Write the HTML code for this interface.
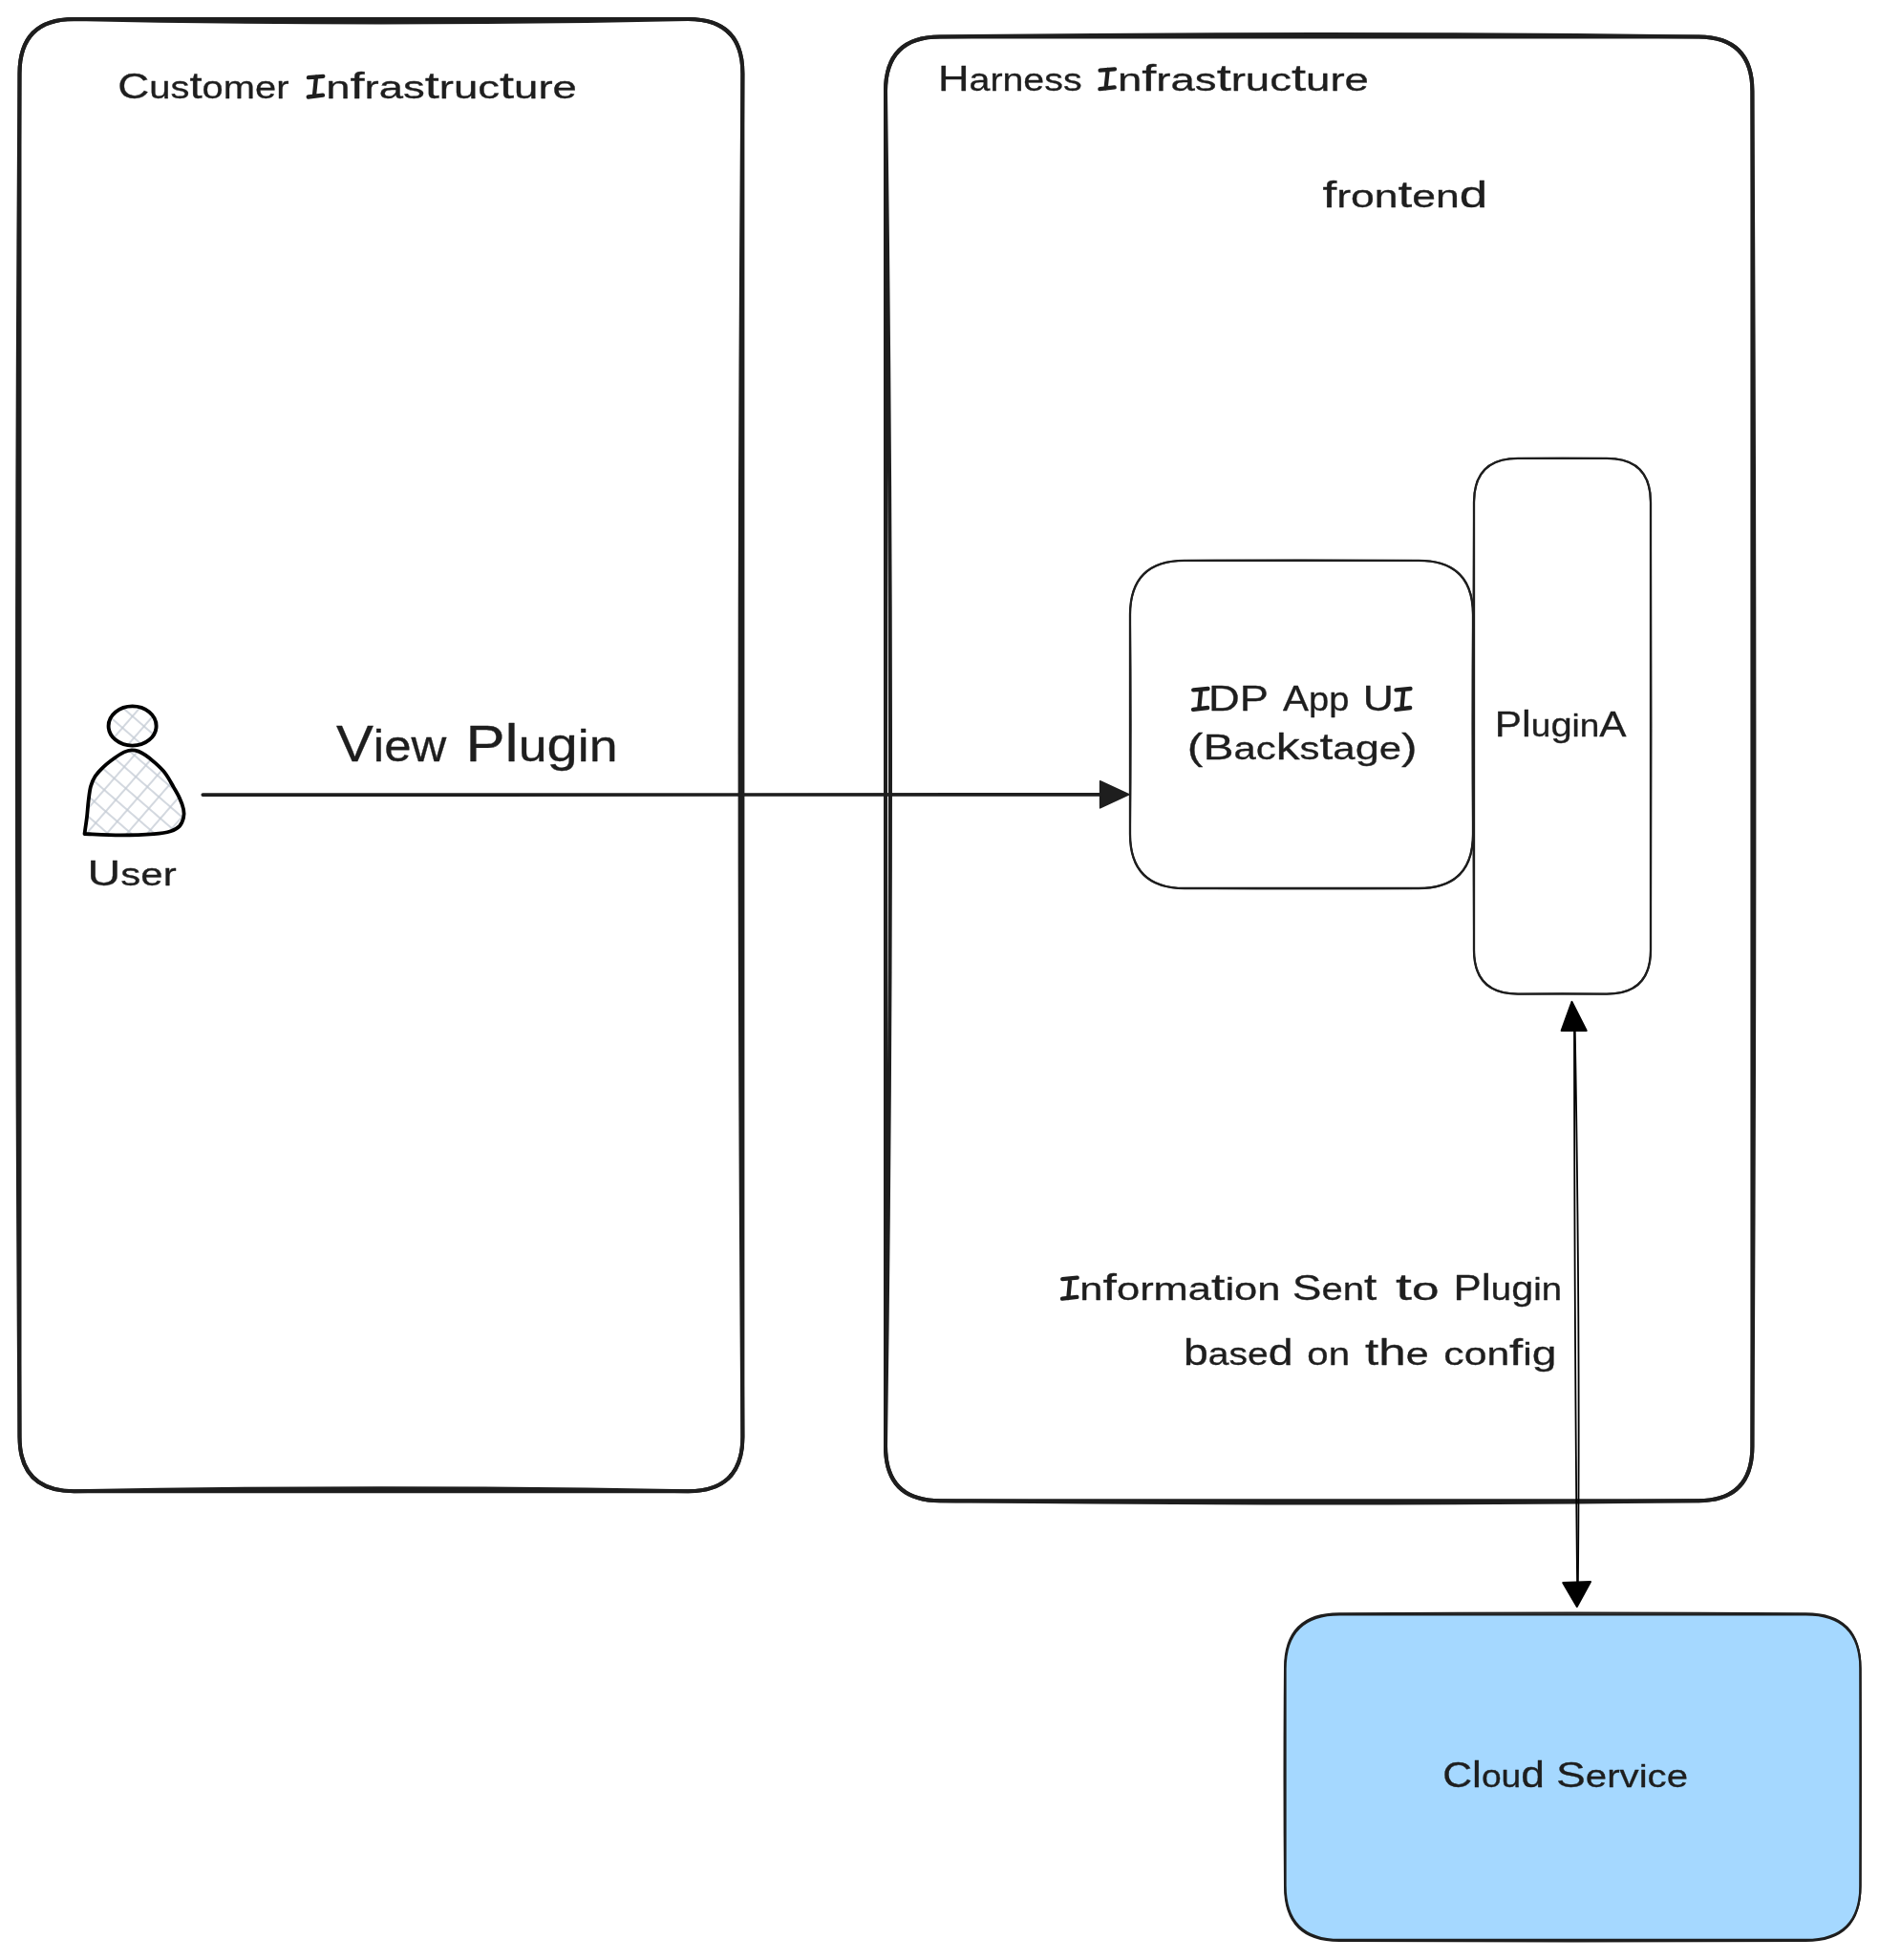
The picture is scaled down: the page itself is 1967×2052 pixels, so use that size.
<!DOCTYPE html>
<html>
<head>
<meta charset="utf-8">
<style>
html,body{margin:0;padding:0;background:#ffffff;}
body{width:1967px;height:2052px;overflow:hidden;position:relative;}
svg{position:absolute;left:0;top:0;will-change:transform;}
text{font-family:"Liberation Sans",sans-serif;fill:#1e1e1e;stroke:#1e1e1e;stroke-width:0.3;stroke-linejoin:round;}
</style>
</head>
<body>
<svg width="1967" height="2052" viewBox="0 0 1967 2052">
<defs>
<pattern id="hatch" patternUnits="userSpaceOnUse" width="16" height="16" patternTransform="translate(130.1,802.8) rotate(41) translate(-8,-8)">
<path d="M0 8H16M8 0V16" stroke="#c5ccd5" stroke-width="1.5" fill="none"/>
</pattern>
<pattern id="hatch2" patternUnits="userSpaceOnUse" width="16" height="16" patternTransform="translate(138.7,749.9) rotate(41) translate(-8,-8)">
<path d="M0 8H16M8 0V16" stroke="#c5ccd5" stroke-width="1.5" fill="none"/>
</pattern>
</defs>
<path d="M77.5 20Q398.95 20 720.4 20Q777.4 20 777.4 77Q777.4 790.6 777.4 1504.2Q777.4 1561.2 720.4 1561.2Q398.95 1561.2 77.5 1561.2Q20.5 1561.2 20.5 1504.2Q20.5 790.6 20.5 77Q20.5 20 77.5 20Z" fill="none" stroke="#1e1e1e" stroke-width="4"/>
<path d="M77.5 20Q398.95 26.8 720.4 20Q777.4 20 777.4 77Q771.8 790.6 777.4 1504.2Q777.4 1561.2 720.4 1561.2Q398.95 1555.2 77.5 1561.2Q20.5 1561.2 20.5 1504.2Q15.5 790.6 20.5 77Q20.5 20 77.5 20Z" fill="none" stroke="#1e1e1e" stroke-width="4"/>
<path d="M984 38.4Q1380.7 38.4 1777.4 38.4Q1834.4 38.4 1834.4 95.4Q1834.4 804.8 1834.4 1514.2Q1834.4 1571.2 1777.4 1571.2Q1380.7 1571.2 984 1571.2Q927 1571.2 927 1514.2Q927 804.8 927 95.4Q927 38.4 984 38.4Z" fill="none" stroke="#1e1e1e" stroke-width="4"/>
<path d="M984 38.4Q1380.7 33.6 1777.4 38.4Q1834.4 38.4 1834.4 95.4Q1838.4 804.8 1834.4 1514.2Q1834.4 1571.2 1777.4 1571.2Q1380.7 1575.8 984 1571.2Q927 1571.2 927 1514.2Q937 804.8 927 95.4Q927 38.4 984 38.4Z" fill="none" stroke="#1e1e1e" stroke-width="4"/>
<path d="M1240 586.8Q1362.5 586.8 1485 586.8Q1542 586.8 1542 643.8Q1542 758.4 1542 873Q1542 930 1485 930Q1362.5 930 1240 930Q1183 930 1183 873Q1183 758.4 1183 643.8Q1183 586.8 1240 586.8Z" fill="none" stroke="#1e1e1e" stroke-width="2.3"/>
<path d="M1240 586.8Q1362.5 586 1485 586.8Q1542 586.8 1542 643.8Q1540.8 758.4 1542 873Q1542 930 1485 930Q1362.5 930.6 1240 930Q1183 930 1183 873Q1184.6 758.4 1183 643.8Q1183 586.8 1240 586.8Z" fill="none" stroke="#1e1e1e" stroke-width="1.8"/>
<path d="M1589 479.9Q1635.5 479.9 1682 479.9Q1728 479.9 1728 525.9Q1728 760.25 1728 994.6Q1728 1040.6 1682 1040.6Q1635.5 1040.6 1589 1040.6Q1543 1040.6 1543 994.6Q1543 760.25 1543 525.9Q1543 479.9 1589 479.9Z" fill="none" stroke="#1e1e1e" stroke-width="2.3"/>
<path d="M1589 479.9Q1635.5 479.3 1682 479.9Q1728 479.9 1728 525.9Q1729 760.25 1728 994.6Q1728 1040.6 1682 1040.6Q1635.5 1039.8 1589 1040.6Q1543 1040.6 1543 994.6Q1541.4 760.25 1543 525.9Q1543 479.9 1589 479.9Z" fill="none" stroke="#1e1e1e" stroke-width="1.8"/>
<path d="M1402.5 1690.3Q1646.5 1690.3 1890.5 1690.3Q1947.5 1690.3 1947.5 1747.3Q1947.5 1860.6 1947.5 1973.9Q1947.5 2030.9 1890.5 2030.9Q1646.5 2030.9 1402.5 2030.9Q1345.5 2030.9 1345.5 1973.9Q1345.5 1860.6 1345.5 1747.3Q1345.5 1690.3 1402.5 1690.3Z" fill="#a5d8ff" stroke="none"/>
<path d="M1402.5 1690.3Q1646.5 1690.3 1890.5 1690.3Q1947.5 1690.3 1947.5 1747.3Q1947.5 1860.6 1947.5 1973.9Q1947.5 2030.9 1890.5 2030.9Q1646.5 2030.9 1402.5 2030.9Q1345.5 2030.9 1345.5 1973.9Q1345.5 1860.6 1345.5 1747.3Q1345.5 1690.3 1402.5 1690.3Z" fill="none" stroke="#1e1e1e" stroke-width="2.3"/>
<path d="M1402 1689.2Q1646.25 1688 1890.5 1689.2Q1947.5 1689.2 1947.5 1746.2Q1948.3 1860.6 1947.5 1975Q1947.5 2032 1890.5 2032Q1646.25 2033 1402 2032Q1345 2032 1345 1975Q1344 1860.6 1345 1746.2Q1345 1689.2 1402 1689.2Z" fill="none" stroke="#1e1e1e" stroke-width="2.0"/>
<path d="M212.3 832.1 L1160 831.9" stroke="#1e1e1e" stroke-width="3.7" stroke-linecap="round" fill="none"/>
<path d="M1151.6 817.8 L1181.8 831.8 L1151.6 845.9 Z" fill="#1e1e1e" stroke="#1e1e1e" stroke-width="1.5" stroke-linejoin="round"/>
<path d="M1648 1068 Q1648.2 1400 1651.2 1667" stroke="#000" stroke-width="1.8" fill="none"/>
<path d="M1648.6 1068 Q1654.5 1400 1651.8 1667" stroke="#000" stroke-width="1.8" fill="none"/>
<path d="M1645.5 1048.9 L1660.7 1079 L1634.6 1079 Z" fill="#000" stroke="#000" stroke-width="2" stroke-linejoin="round"/>
<path d="M1650.8 1682 L1636.2 1657 L1665 1656 Z" fill="#000" stroke="#000" stroke-width="2" stroke-linejoin="round"/>
<ellipse cx="138.6" cy="760" rx="25" ry="20.6" fill="url(#hatch2)" stroke="#000" stroke-width="3.9"/>
<path d="M88.5 873.0 C94.8 873.2 113.9 874.3 126.0 874.3 C138.1 874.3 152.3 873.8 161.1 873.1 C169.9 872.4 174.2 871.6 178.7 870.2 C183.2 868.8 185.8 867.2 188.0 864.9 C190.2 862.5 191.4 859.0 192.1 856.1 C192.8 853.2 192.8 850.7 192.1 847.3 C191.4 843.9 189.8 839.5 188.0 835.6 C186.2 831.7 184.1 828.3 181.6 823.9 C179.1 819.5 176.2 813.7 172.8 809.3 C169.4 804.9 164.5 800.7 161.1 797.6 C157.7 794.5 155.0 792.4 152.3 790.6 C149.6 788.8 147.4 787.5 145.0 786.6 C142.6 785.7 140.2 785.2 137.7 785.3 C135.2 785.4 132.9 786.0 130.0 787.4 C127.1 788.8 123.7 790.9 120.1 793.5 C116.5 796.1 111.8 799.6 108.4 802.8 C105.0 806.0 101.8 809.4 99.6 812.8 C97.4 816.2 96.2 819.0 95.0 823.3 C93.8 827.6 93.3 833.0 92.6 838.5 C91.9 844.0 91.6 850.4 90.9 856.1 C90.2 861.9 88.9 870.2 88.5 873.0Z" fill="url(#hatch)" stroke="#000" stroke-width="3.8" stroke-linejoin="round"/>
<path d="M322.9 81.2L338.3 79.8M331.0 80.5L328.9 100.8M322.7 101.5L338.0 99.7" stroke="#1e1e1e" stroke-width="4.3" stroke-linecap="round" fill="none"/>
<path d="M1151.6 73.7L1167.0 72.3M1159.7 73.0L1157.6 92.5M1151.4 93.2L1166.7 91.4" stroke="#1e1e1e" stroke-width="4.3" stroke-linecap="round" fill="none"/>
<path d="M1249.2 722.4L1264.5 721.0M1257.2 721.7L1255.2 742.1M1249.0 742.8L1264.2 741.0" stroke="#1e1e1e" stroke-width="4.3" stroke-linecap="round" fill="none"/>
<path d="M1461.5 722.4L1476.5 721.0M1469.3 721.7L1467.4 742.1M1461.3 742.8L1476.2 741.0" stroke="#1e1e1e" stroke-width="4.3" stroke-linecap="round" fill="none"/>
<path d="M1112.2 1339.1L1127.7 1337.7M1120.3 1338.4L1118.3 1359.0M1112.0 1359.7L1127.4 1357.9" stroke="#1e1e1e" stroke-width="4.3" stroke-linecap="round" fill="none"/>
<text x="123.28" y="103" textLength="179.18" lengthAdjust="spacingAndGlyphs"><tspan font-size="37.77">C</tspan><tspan font-size="32.93">us</tspan><tspan font-size="39.16">t</tspan><tspan font-size="32.93">omer</tspan></text>
<text x="341.24" y="103" textLength="262.61" lengthAdjust="spacingAndGlyphs"><tspan font-size="32.93">n</tspan><tspan font-size="39.16">f</tspan><tspan font-size="32.93">ras</tspan><tspan font-size="39.16">t</tspan><tspan font-size="32.93">ruc</tspan><tspan font-size="39.16">t</tspan><tspan font-size="32.93">ure</tspan></text>
<text x="981.91" y="95" textLength="150.71" lengthAdjust="spacingAndGlyphs"><tspan font-size="37.77">H</tspan><tspan font-size="32.93">arness</tspan></text>
<text x="1169.93" y="95" textLength="263.02" lengthAdjust="spacingAndGlyphs"><tspan font-size="32.93">n</tspan><tspan font-size="39.16">f</tspan><tspan font-size="32.93">ras</tspan><tspan font-size="39.16">t</tspan><tspan font-size="32.93">ruc</tspan><tspan font-size="39.16">t</tspan><tspan font-size="32.93">ure</tspan></text>
<text x="1384.4" y="216.5" textLength="172.96" lengthAdjust="spacingAndGlyphs"><tspan font-size="39.16">f</tspan><tspan font-size="32.93">ron</tspan><tspan font-size="39.16">t</tspan><tspan font-size="32.93">en</tspan><tspan font-size="39.16">d</tspan></text>
<text x="1265.0" y="744.3" textLength="62.96" lengthAdjust="spacingAndGlyphs"><tspan font-size="37.77">DP</tspan></text>
<text x="1343.1" y="744.3" textLength="69.34" lengthAdjust="spacingAndGlyphs"><tspan font-size="37.77">A</tspan><tspan font-size="35.6">pp</tspan></text>
<text x="1426.77" y="744.3" textLength="32.12" lengthAdjust="spacingAndGlyphs"><tspan font-size="37.77">U</tspan></text>
<text x="1242.86" y="795" textLength="240.84" lengthAdjust="spacingAndGlyphs"><tspan font-size="39.16">(</tspan><tspan font-size="37.77">B</tspan><tspan font-size="32.93">ac</tspan><tspan font-size="39.16">k</tspan><tspan font-size="32.93">s</tspan><tspan font-size="39.16">t</tspan><tspan font-size="32.93">a</tspan><tspan font-size="35.6">g</tspan><tspan font-size="32.93">e</tspan><tspan font-size="39.16">)</tspan></text>
<text x="1564.84" y="771.3" textLength="137.79" lengthAdjust="spacingAndGlyphs"><tspan font-size="37.77">P</tspan><tspan font-size="39.16">l</tspan><tspan font-size="32.93">u</tspan><tspan font-size="35.6">g</tspan><tspan font-size="32.93">in</tspan><tspan font-size="37.77">A</tspan></text>
<text x="91.58" y="926.8" textLength="93.04" lengthAdjust="spacingAndGlyphs"><tspan font-size="37.77">U</tspan><tspan font-size="32.93">ser</tspan></text>
<text x="351.9" y="797" textLength="115.38" lengthAdjust="spacingAndGlyphs"><tspan font-size="52.84">V</tspan><tspan font-size="46.06">iew</tspan></text>
<text x="487.44" y="797" textLength="159.06" lengthAdjust="spacingAndGlyphs"><tspan font-size="52.84">P</tspan><tspan font-size="54.78">l</tspan><tspan font-size="46.06">u</tspan><tspan font-size="49.8">g</tspan><tspan font-size="46.06">in</tspan></text>
<text x="1130.36" y="1361.3" textLength="210.15" lengthAdjust="spacingAndGlyphs"><tspan font-size="32.93">n</tspan><tspan font-size="39.16">f</tspan><tspan font-size="32.93">orma</tspan><tspan font-size="39.16">t</tspan><tspan font-size="32.93">ion</tspan></text>
<text x="1352.77" y="1361.3" textLength="88.49" lengthAdjust="spacingAndGlyphs"><tspan font-size="37.77">S</tspan><tspan font-size="32.93">en</tspan><tspan font-size="39.16">t</tspan></text>
<text x="1461.1" y="1361.3" textLength="45.37" lengthAdjust="spacingAndGlyphs"><tspan font-size="39.16">t</tspan><tspan font-size="32.93">o</tspan></text>
<text x="1521.41" y="1361.3" textLength="113.6" lengthAdjust="spacingAndGlyphs"><tspan font-size="37.77">P</tspan><tspan font-size="39.16">l</tspan><tspan font-size="32.93">u</tspan><tspan font-size="35.6">g</tspan><tspan font-size="32.93">in</tspan></text>
<text x="1238.93" y="1428.9" textLength="114.62" lengthAdjust="spacingAndGlyphs"><tspan font-size="39.16">b</tspan><tspan font-size="32.93">ase</tspan><tspan font-size="39.16">d</tspan></text>
<text x="1368.38" y="1428.9" textLength="44.7" lengthAdjust="spacingAndGlyphs"><tspan font-size="32.93">on</tspan></text>
<text x="1429.0" y="1428.9" textLength="66.77" lengthAdjust="spacingAndGlyphs"><tspan font-size="39.16">th</tspan><tspan font-size="32.93">e</tspan></text>
<text x="1511.3" y="1428.9" textLength="118.13" lengthAdjust="spacingAndGlyphs"><tspan font-size="32.93">con</tspan><tspan font-size="39.16">f</tspan><tspan font-size="32.93">i</tspan><tspan font-size="35.6">g</tspan></text>
<text x="1510.24" y="1871.3" textLength="106.66" lengthAdjust="spacingAndGlyphs"><tspan font-size="37.77">C</tspan><tspan font-size="39.16">l</tspan><tspan font-size="32.93">ou</tspan><tspan font-size="39.16">d</tspan></text>
<text x="1629.06" y="1871.3" textLength="138.0" lengthAdjust="spacingAndGlyphs"><tspan font-size="37.77">S</tspan><tspan font-size="32.93">ervice</tspan></text>
</svg>
</body>
</html>
